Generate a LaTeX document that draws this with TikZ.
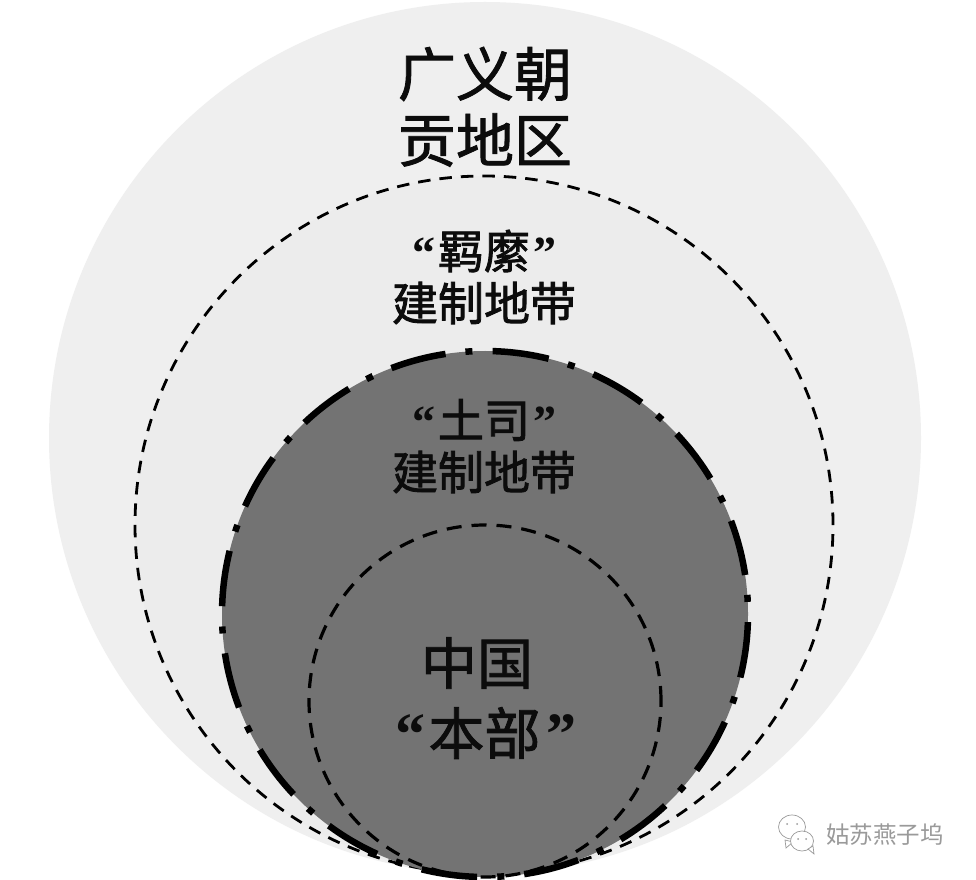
\documentclass[tikz,border=0pt]{standalone}
\usepackage{fontspec}
\newfontfamily\cjk[FakeBold=1.5]{Noto Sans CJK SC}
\newfontfamily\cjkb[FakeBold=1.8]{Noto Sans CJK SC}
\newfontfamily\cjkw{Noto Sans CJK SC}
\newfontfamily\quotef{Liberation Serif Bold}
\definecolor{outerfill}{HTML}{EFEFEF}
\definecolor{midfill}{HTML}{ECECEC}
\definecolor{darkfill}{HTML}{737373}
\definecolor{inkc}{HTML}{0C0C0C}
\definecolor{markc}{HTML}{9A9A9A}
\tikzset{
  x=1pt,y=1pt,
  label big/.style={font=\cjk\fontsize{58}{58}\selectfont,text=inkc,inner sep=0pt,anchor=center},
  label mid/.style={font=\cjkb\fontsize{46}{46}\selectfont,text=inkc,inner sep=0pt,anchor=center},
  label core/.style={font=\cjk\fontsize{56}{56}\selectfont,text=inkc,inner sep=0pt,anchor=center},
  label mark/.style={font=\cjkw\fontsize{23.5}{23.5}\selectfont,text=markc,inner sep=0pt,anchor=center},
  midline/.style={draw=black,line width=2.8pt,dash pattern=on 12.5pt off 9pt},
  coreline/.style={draw=black,line width=3.2pt,dash pattern=on 15pt off 10pt},
  darkline/.style={draw=black,line width=6.5pt,dash pattern=on 56pt off 20pt on 7pt off 20.25pt},
  bubble/.style={draw=markc,line width=0.7pt,fill=white}
}
\newcommand\qopen[1]{{\quotef\fontsize{#1}{#1}\selectfont “}}
\newcommand\qclose[1]{{\quotef\fontsize{#1}{#1}\selectfont ”}}
\begin{document}
\begin{tikzpicture}
\useasboundingbox (0,0) rectangle (976,879);
\fill[white] (0,0) rectangle (976,879);
\fill[outerfill] (485,441) circle (436);
\fill[midfill] (484,354) circle (349);
\path[midline] (484,354) circle (349);
\fill[darkfill] (485,265) circle (263);
\path[darkline] (485,265) ++(88.2:263) arc (88.2:-271.8:263);
\path[coreline] (485,178) circle (176);

\node[label big] (a1) at (485,805) {广义朝};
\node[label big] (a2) at (485,739) {贡地区};
\node[label mid] (b1) at (484,628) {\qopen{46}\kern3pt 羁縻\kern3pt\qclose{46}};
\node[label mid] (b2) at (484,576) {建制地带};
\node[label mid] (c1) at (484,459) {\qopen{46}\kern3pt 土司\kern3pt\qclose{46}};
\node[label mid] (c2) at (484,407) {建制地带};
\node[label core] (d1) at (477,216) {中国};
\node[label core] (d2) at (486,146) {\qopen{60}\kern3pt 本部\kern6pt\qclose{60}};
\node[label mark] (w) at (885,44) {姑苏燕子坞};

% WeChat mark of the watermark
\path[bubble] (792,52) ellipse (13.5 and 12);
\path[bubble] (785,39) -- (786,31) -- (793,37) -- cycle;
\path[bubble] (802,38) ellipse (11.5 and 10);
\path[bubble] (808,30) -- (814,25) -- (813,33) -- cycle;
\fill[markc] (787,55) circle (1) (797,55) circle (1) (798,40) circle (1) (806,40) circle (1);
\end{tikzpicture}
\end{document}
